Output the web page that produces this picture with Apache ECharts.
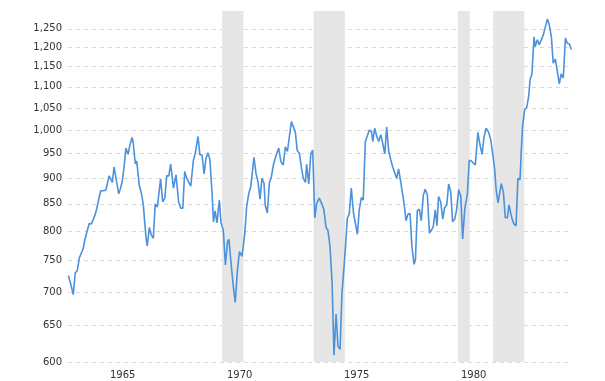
<!DOCTYPE html>
<html>
<head>
<meta charset="utf-8">
<script src="https://cdn.jsdelivr.net/npm/echarts@6/dist/echarts.min.js"></script>
<style>
html,body{margin:0;padding:0;background:#fff;}
#chart{width:605px;height:381px;}
</style>
</head>
<body>
<div id="chart"></div>
<script>
// Decimal years of each plotted point
const dates = [
1963.35,1963.39,1963.45,1963.56,1963.64,1963.73,1963.82,1963.90,1963.99,1964.05,
1964.16,1964.24,1964.33,1964.41,1964.50,1964.56,1964.64,1964.73,1964.84,1964.95,
1965.01,1965.09,1965.15,1965.23,1965.30,1965.38,1965.50,1965.58,1965.65,1965.73,
1965.81,1965.90,1965.98,1966.07,1966.12,1966.21,1966.27,1966.38,1966.47,1966.55,
1966.61,1966.67,1966.72,1966.81,1966.89,1966.98,1967.06,1967.15,1967.29,1967.38,
1967.47,1967.55,1967.64,1967.72,1967.84,1967.95,1968.06,1968.15,1968.24,1968.32,
1968.41,1968.49,1968.58,1968.69,1968.77,1968.89,1968.97,1969.06,1969.15,1969.23,
1969.32,1969.40,1969.49,1969.55,1969.62,1969.70,1969.80,1969.87,1969.97,1970.06,
1970.15,1970.21,1970.32,1970.40,1970.48,1970.57,1970.66,1970.77,1970.89,1970.97,
1971.06,1971.14,1971.20,1971.28,1971.37,1971.45,1971.54,1971.62,1971.71,1971.76,
1971.85,1971.94,1972.02,1972.11,1972.19,1972.28,1972.34,1972.43,1972.53,1972.62,
1972.71,1972.79,1972.88,1972.96,1973.05,1973.13,1973.22,1973.31,1973.39,1973.48,
1973.53,1973.62,1973.71,1973.79,1973.88,1973.96,1974.07,1974.19,1974.27,1974.36,
1974.44,1974.53,1974.62,1974.70,1974.79,1974.87,1974.96,1975.04,1975.13,1975.21,
1975.27,1975.35,1975.44,1975.53,1975.61,1975.70,1975.78,1975.87,1975.95,1976.04,
1976.12,1976.21,1976.30,1976.36,1976.44,1976.53,1976.61,1976.70,1976.78,1976.87,
1976.95,1977.04,1977.12,1977.21,1977.29,1977.38,1977.46,1977.55,1977.63,1977.71,
1977.78,1977.86,1977.95,1978.03,1978.12,1978.18,1978.26,1978.35,1978.43,1978.52,
1978.60,1978.69,1978.78,1978.86,1978.94,1979.03,1979.10,1979.17,1979.26,1979.35,
1979.43,1979.52,1979.60,1979.69,1979.77,1979.86,1979.94,1980.03,1980.12,1980.20,
1980.29,1980.40,1980.48,1980.57,1980.65,1980.74,1980.85,1980.94,1981.03,1981.11,
1981.20,1981.31,1981.40,1981.48,1981.57,1981.63,1981.71,1981.77,1981.85,1981.94,
1982.02,1982.11,1982.18,1982.25,1982.32,1982.39,1982.48,1982.56,1982.65,1982.71,
1982.76,1982.85,1982.94,1983.02,1983.08,1983.16,1983.25,1983.30,1983.39,1983.47,
1983.56,1983.65,1983.73,1983.82,1983.90,1983.99,1984.07,1984.16,1984.24,1984.33,
1984.41,1984.50,1984.59,1984.67,1984.76,1984.84
];
// Values at those dates
const values = [
726,720,712,696,730,734,755,753,771,785,
802,814,813,821,831,841,840,875,875,876,
875,904,902,891,922,921,869,880,893,923,
961,948,968,984,972,928,934,885,870,849,
817,788,775,807,794,788,850,844,898,854,
861,904,904,928,880,906,854,842,842,913,
899,896,884,935,950,986,947,947,908,940,
951,936,870,817,837,815,857,816,802,743,
782,786,738,708,684,733,765,757,797,846,
870,882,906,942,908,893,859,899,890,848,
833,891,901,926,940,954,961,933,926,964,
954,957,1019,1021,995,956,950,920,899,891,
928,888,949,957,824,851,861,849,839,807,
802,774,714,609,667,621,617,698,740,785,
824,831,880,834,834,795,839,862,857,975,
973,1000,997,975,1004,986,975,990,972,949,
1007,954,938,922,926,899,918,893,869,846,
819,831,832,774,744,751,837,840,819,867,
878,867,797,802,808,839,810,864,854,822,
843,848,888,872,817,822,839,877,864,787,
841,868,936,934,932,926,995,968,948,984,
1004,995,979,950,916,877,852,853,889,872,
825,824,848,833,821,813,810,899,897,961,
1009,1046,1052,1077,1117,1132,1228,1202,1220,1207,
1220,1234,1231,1277,1261,1228,1159,1169,1172,1107,
1132,1122,1225,1211,1209,1194
];
// Recession periods (start, end) in decimal years
const recessionStarts = [1969.917, 1973.833, 1980.0, 1981.5];
const recessionEnds   = [1970.833, 1975.167, 1980.5, 1982.833];
// Tick labels
const yTicks = [600,650,700,750,800,850,900,950,1000,1050,1100,1150,1200,1250];
const xTicks = [1965,1970,1975,1980];

const seriesData = dates.map((d, i) => [d, values[i]]);
const areas = recessionStarts.map((s, i) => [{xAxis: s}, {xAxis: recessionEnds[i]}]);

const chart = echarts.init(document.getElementById('chart'), null, {renderer: 'canvas'});
chart.setOption({
  animation: false,
  backgroundColor: '#fff',
  grid: {left: 68, right: 33, top: 11, bottom: 19, containLabel: false},
  xAxis: {
    type: 'value',
    min: 1963.333,
    max: 1984.872,
    axisLine: {show: false},
    axisTick: {show: false},
    splitLine: {show: false},
    axisLabel: {
      customValues: xTicks,
      formatter: v => String(Math.round(v)),
      align: 'left',
      padding: [0, 0, 0, 3],
      margin: 8,
      color: '#333',
      fontFamily: 'DejaVu Sans',
      fontSize: 10
    }
  },
  yAxis: {
    type: 'log',
    logBase: 10,
    min: 600,
    max: 1300,
    axisLine: {show: false},
    axisTick: {show: false, customValues: yTicks},
    splitLine: {show: true, lineStyle: {color: '#dadada', type: [4, 4], width: 1}},
    axisLabel: {
      customValues: yTicks,
      formatter: v => Math.round(v).toLocaleString('en-US'),
      margin: 6,
      color: '#333',
      fontFamily: 'DejaVu Sans',
      fontSize: 10
    }
  },
  series: [{
    type: 'line',
    data: seriesData,
    showSymbol: false,
    smooth: false,
    lineStyle: {color: '#4b92db', width: 1.6},
    itemStyle: {color: '#4b92db'},
    markArea: {
      silent: true,
      itemStyle: {color: '#e6e6e6'},
      data: areas
    }
  }]
});
</script>
</body>
</html>
